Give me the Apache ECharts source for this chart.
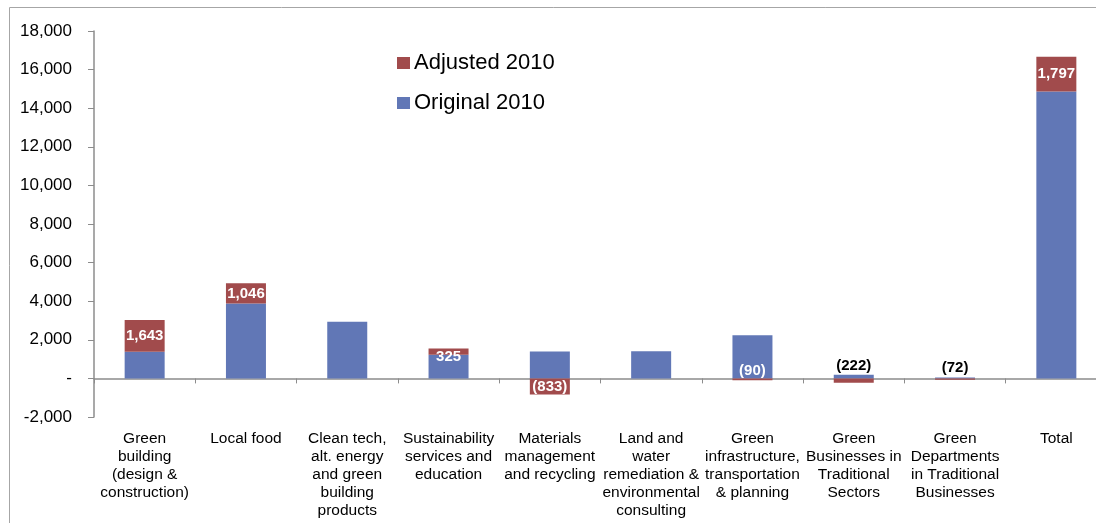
<!DOCTYPE html>
<html>
<head>
<meta charset="utf-8">
<style>
  html, body { margin: 0; padding: 0; background: #fff; }
  #chart { width: 1096px; height: 523px; }
</style>
<script src="https://cdn.jsdelivr.net/npm/echarts@6/dist/echarts.min.js"></script>
</head>
<body>
<div id="chart"></div>
<script>
// Green economy jobs by sector, 2010: original estimate plus adjustment
const categories = [
  'Green\nbuilding\n(design &\nconstruction)',
  'Local food',
  'Clean tech,\nalt. energy\nand green\nbuilding\nproducts',
  'Sustainability\nservices and\neducation',
  'Materials\nmanagement\nand recycling',
  'Land and\nwater\nremediation &\nenvironmental\nconsulting',
  'Green\ninfrastructure,\ntransportation\n& planning',
  'Green\nBusinesses in\nTraditional\nSectors',
  'Green\nDepartments\nin Traditional\nBusinesses',
  'Total'
];
const original2010 = [1377, 3883, 2930, 1230, 1400, 1405, 2242, 190, 50, 14870];
const adjusted2010 = [1643, 1046, 0, 325, -833, 0, -90, -222, -72, 1797];
const seriesNames = ['Original 2010', 'Adjusted 2010'];
const yMin = -2000, yMax = 18000, yStep = 2000;

const FONT = '"Liberation Sans", Arial, sans-serif';
const BLUE = '#6177B6';
const RED = '#A14B4C';
const AXIS_GRAY = '#8c8c8c';

const fmtThousands = v => Math.abs(v).toString().replace(/\B(?=(\d{3})+(?!\d))/g, ',');
const fmtAdjust = v => v === 0 ? '' : (v < 0 ? '(' + fmtThousands(v) + ')' : fmtThousands(v));

// small-segment labels are nudged so they stay readable
const labelNudge = {
  3: { offset: [0, 5] },
  6: { offset: [0, -8] },
  7: { offset: [0, -15], color: '#000' },
  8: { offset: [0, -11], color: '#000' }
};

const adjustedData = adjusted2010.map((v, i) => {
  const item = { value: v };
  if (labelNudge[i]) item.label = labelNudge[i];
  return item;
});

const chart = echarts.init(document.getElementById('chart'), null, { renderer: 'canvas' });
chart.setOption({
  animation: false,
  backgroundColor: '#fff',
  textStyle: { fontFamily: FONT },
  graphic: [{
    type: 'rect',
    silent: true,
    shape: { x: 9.5, y: 7.5, width: 1200, height: 700 },
    style: { fill: null, stroke: '#a6a6a6', lineWidth: 1 }
  }],
  legend: {
    orient: 'vertical',
    left: 397,
    top: 52,
    padding: 0,
    itemWidth: 13,
    itemHeight: 12,
    itemGap: 18,
    icon: 'rect',
    data: [seriesNames[1], seriesNames[0]],
    textStyle: { fontFamily: FONT, fontSize: 22, color: '#000', padding: [0, 0, 0, -1] }
  },
  grid: { left: 94, top: 31, width: 1013, height: 386, containLabel: false, outerBoundsMode: 'none' },
  xAxis: {
    type: 'category',
    data: categories,
    boundaryGap: true,
    axisLine: { onZero: true, lineStyle: { color: AXIS_GRAY, width: 1.5 } },
    axisTick: { show: true, length: 5, inside: false, lineStyle: { color: AXIS_GRAY } },
    axisLabel: {
      interval: 0,
      margin: 13,
      fontFamily: FONT,
      fontSize: 15.5,
      lineHeight: 18,
      color: '#000',
      align: 'center'
    },
    splitLine: { show: false }
  },
  yAxis: {
    type: 'value',
    min: yMin,
    max: yMax,
    interval: yStep,
    axisLine: { show: true, lineStyle: { color: AXIS_GRAY, width: 1.5 } },
    axisTick: { show: true, length: 6, lineStyle: { color: AXIS_GRAY } },
    axisLabel: {
      margin: 22,
      fontFamily: FONT,
      fontSize: 17,
      color: '#000',
      formatter: v => v === 0 ? '-' : (v < 0 ? '-' : '') + fmtThousands(v)
    },
    splitLine: { show: false }
  },
  series: [
    {
      name: seriesNames[0],
      type: 'bar',
      stack: 'jobs',
      barWidth: 40,
      itemStyle: { color: BLUE },
      data: original2010
    },
    {
      name: seriesNames[1],
      type: 'bar',
      stack: 'jobs',
      barWidth: 40,
      itemStyle: { color: RED },
      label: {
        show: true,
        position: 'inside',
        fontFamily: FONT,
        fontSize: 15,
        fontWeight: 'bold',
        color: '#fff',
        formatter: p => fmtAdjust(p.value)
      },
      data: adjustedData
    }
  ]
});
</script>
</body>
</html>
